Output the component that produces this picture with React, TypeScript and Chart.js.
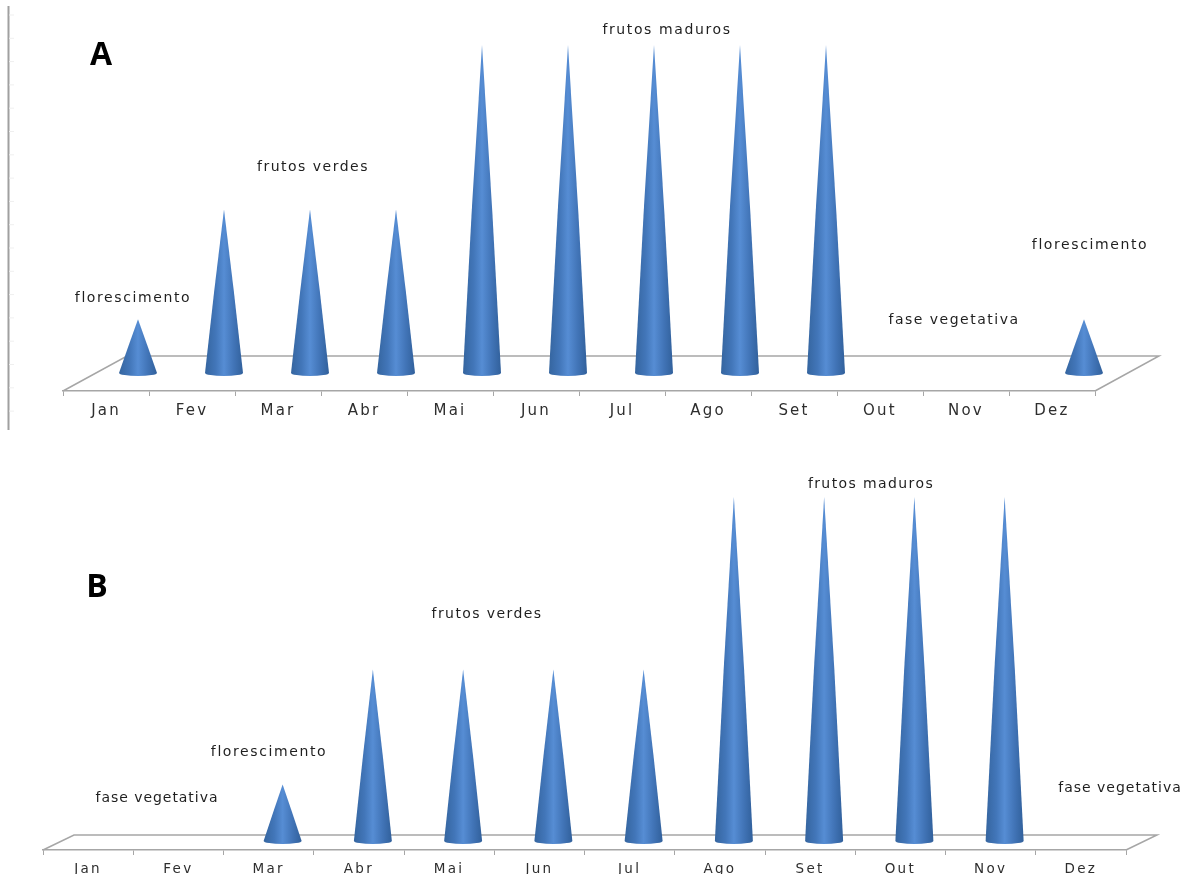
import React, { useEffect, useRef } from "react";
import { Chart, registerables } from "chart.js";

Chart.register(...registerables);

const monthsPT = ["Jan", "Fev", "Mar", "Abr", "Mai", "Jun", "Jul", "Ago", "Set", "Out", "Nov", "Dez"];
// Phenology stage level per month: 1 flowering, 3 green fruit, 6 ripe fruit, 0 vegetative.
const stagesA = [1, 3, 3, 3, 6, 6, 6, 6, 6, 0, 0, 1];
const stagesB = [0, 0, 1, 3, 3, 3, 3, 6, 6, 6, 6, 0];

const notesA = ["florescimento", "frutos verdes", "frutos maduros", "florescimento", "fase vegetativa"];
const notesB = ["fase vegetativa", "florescimento", "frutos verdes", "frutos maduros", "fase vegetativa"];

const WIDTH = 1184;
const PANEL_HEIGHT = 437;
const FONT = '"DejaVu Sans", sans-serif';
const AXIS_GREY = "#a6a6a6";

type NoteAnchor = { x: number; y: number; spacing: string };

type PanelLayout = {
  left: number;
  right: number;
  top: number;
  axisY: number;
  baseY: number;
  unit: number;
  depthX: number;
  depthY: number;
  coneShift: number;
  coneWidth: number;
  tagX: number;
  tagY: number;
  labelPad: number;
  labelSize: number;
  labelSpacing: string;
  valueAxis: boolean;
  anchors: NoteAnchor[];
};

const layoutA: PanelLayout = {
  left: 63, right: 1095, top: 6, axisY: 391, baseY: 374, unit: 54.83,
  depthX: 64, depthY: 35, coneShift: 32, coneWidth: 38,
  tagX: 101, tagY: 56, labelPad: 6.5, labelSize: 15, labelSpacing: "2.2px", valueAxis: true,
  anchors: [
    { x: 133, y: 298, spacing: "1.6px" },
    { x: 313, y: 167, spacing: "1.5px" },
    { x: 667, y: 30, spacing: "1.6px" },
    { x: 1090, y: 245, spacing: "1.6px" },
    { x: 954, y: 320, spacing: "1.5px" },
  ],
};
const layoutB: PanelLayout = {
  left: 43, right: 1126, top: 40, axisY: 413, baseY: 405, unit: 57.5,
  depthX: 31, depthY: 15, coneShift: 14, coneWidth: 38,
  tagX: 97, tagY: 151, labelPad: 6, labelSize: 13.5, labelSpacing: "2.3px", valueAxis: false,
  anchors: [
    { x: 157, y: 361, spacing: "0.95px" },
    { x: 269, y: 315, spacing: "1.6px" },
    { x: 487, y: 177, spacing: "1.4px" },
    { x: 871, y: 47, spacing: "1.4px" },
    { x: 1120, y: 351, spacing: "1px" },
  ],
};

function coneFill(ctx: CanvasRenderingContext2D, x: number, half: number) {
  const g = ctx.createLinearGradient(x - half, 0, x + half, 0);
  g.addColorStop(0, "#35659f");
  g.addColorStop(0.28, "#4276b9");
  g.addColorStop(0.5, "#568dd4");
  g.addColorStop(0.75, "#4275b8");
  g.addColorStop(1, "#31609b");
  return g;
}

function makePlugin(layout: PanelLayout, tag: string, notes: string[]) {
  return {
    id: "phenologyCones",
    beforeDraw(chart: any) {
      // the month labels are tracked out wider than the font's default
      (chart.ctx as any).letterSpacing = layout.labelSpacing;
    },
    beforeDatasetsDraw(chart: any) {
      const { ctx, chartArea } = chart;
      ctx.save();
      ctx.strokeStyle = AXIS_GREY;
      ctx.lineWidth = 1.5;
      // receding floor of the 3D plot
      ctx.beginPath();
      ctx.moveTo(chartArea.left, chartArea.bottom);
      ctx.lineTo(chartArea.left + layout.depthX, chartArea.bottom - layout.depthY);
      ctx.lineTo(chartArea.right + layout.depthX, chartArea.bottom - layout.depthY);
      ctx.lineTo(chartArea.right, chartArea.bottom);
      ctx.stroke();
      if (layout.valueAxis) {
        ctx.beginPath();
        ctx.moveTo(8.5, 6);
        ctx.lineTo(8.5, 430);
        ctx.strokeStyle = "#a0a0a0";
        ctx.lineWidth = 2;
        ctx.stroke();
        ctx.strokeStyle = "#efefef";
        ctx.lineWidth = 1;
        for (let y = 15; y < 430; y += 23.3) {
          ctx.beginPath();
          ctx.moveTo(9, y);
          ctx.lineTo(14, y);
          ctx.stroke();
        }
      }
      ctx.restore();
    },
    afterDatasetsDraw(chart: any) {
      const { ctx } = chart;
      const yScale = chart.scales.y;
      const base = yScale.getPixelForValue(0) - 1;
      const half = layout.coneWidth / 2;
      chart.getDatasetMeta(0).data.forEach((bar: any, i: number) => {
        const value = chart.data.datasets[0].data[i];
        if (!value) return;
        const x = bar.x + layout.coneShift;
        const tip = yScale.getPixelForValue(value);
        const midY = (tip + base) / 2;
        // tall cones bow out slightly from the straight line
        const bulge = half / 2 + (base - tip) * 0.004;
        ctx.save();
        ctx.fillStyle = coneFill(ctx, x, half);
        ctx.beginPath();
        ctx.moveTo(x, tip);
        ctx.quadraticCurveTo(x + bulge, midY, x + half, base);
        ctx.ellipse(x, base, half, 3, 0, 0, Math.PI);
        ctx.quadraticCurveTo(x - bulge, midY, x, tip);
        ctx.closePath();
        ctx.fill();
        ctx.restore();
      });
      ctx.save();
      ctx.textAlign = "center";
      ctx.textBaseline = "middle";
      ctx.fillStyle = "#1f1f1f";
      ctx.font = `14px ${FONT}`;
      notes.forEach((text, i) => {
        const a = layout.anchors[i];
        (ctx as any).letterSpacing = a.spacing;
        ctx.fillText(text, a.x, a.y);
      });
      (ctx as any).letterSpacing = "0px";
      ctx.fillStyle = "#000000";
      ctx.font = 'bold 32px "Open Sans", sans-serif';
      ctx.fillText(tag, layout.tagX, layout.tagY);
      ctx.restore();
    },
  };
}

function Panel({ top, values, layout, tag, notes }: {
  top: number;
  values: number[];
  layout: PanelLayout;
  tag: string;
  notes: string[];
}) {
  const ref = useRef<HTMLCanvasElement>(null);

  useEffect(() => {
    const chart = new Chart(ref.current!, {
      type: "bar",
      data: {
        labels: monthsPT,
        datasets: [{ data: values, backgroundColor: "rgba(0,0,0,0)", borderWidth: 0 }],
      },
      options: {
        responsive: false,
        animation: false,
        layout: {
          padding: { left: layout.left, right: WIDTH - layout.right, top: layout.top, bottom: 0 },
        },
        plugins: { legend: { display: false }, tooltip: { enabled: false }, title: { display: false } },
        scales: {
          x: {
            grid: { drawOnChartArea: false, drawTicks: true, tickLength: 5, color: AXIS_GREY },
            border: { color: AXIS_GREY, width: 1.5 },
            ticks: {
              color: "#2e2e2e",
              font: { family: FONT, size: layout.labelSize },
              padding: layout.labelPad,
              maxRotation: 0,
              autoSkip: false,
            },
            afterFit(scale: any) {
              scale.height = PANEL_HEIGHT - layout.axisY;
            },
          },
          y: {
            display: false,
            min: -(layout.axisY - layout.baseY) / layout.unit,
            max: (layout.baseY - layout.top) / layout.unit,
          },
        },
      },
      plugins: [makePlugin(layout, tag, notes)],
    });
    return () => chart.destroy();
  }, [values, layout, tag, notes]);

  return (
    <canvas
      ref={ref}
      width={WIDTH}
      height={PANEL_HEIGHT}
      style={{ position: "absolute", left: 0, top, display: "block" }}
    />
  );
}

export default function App() {
  return (
    <div style={{ position: "absolute", left: 0, top: 0, width: WIDTH, height: 874, background: "#ffffff", overflow: "hidden" }}>
      <Panel top={0} values={stagesA} layout={layoutA} tag="A" notes={notesA} />
      <Panel top={437} values={stagesB} layout={layoutB} tag="B" notes={notesB} />
    </div>
  );
}
